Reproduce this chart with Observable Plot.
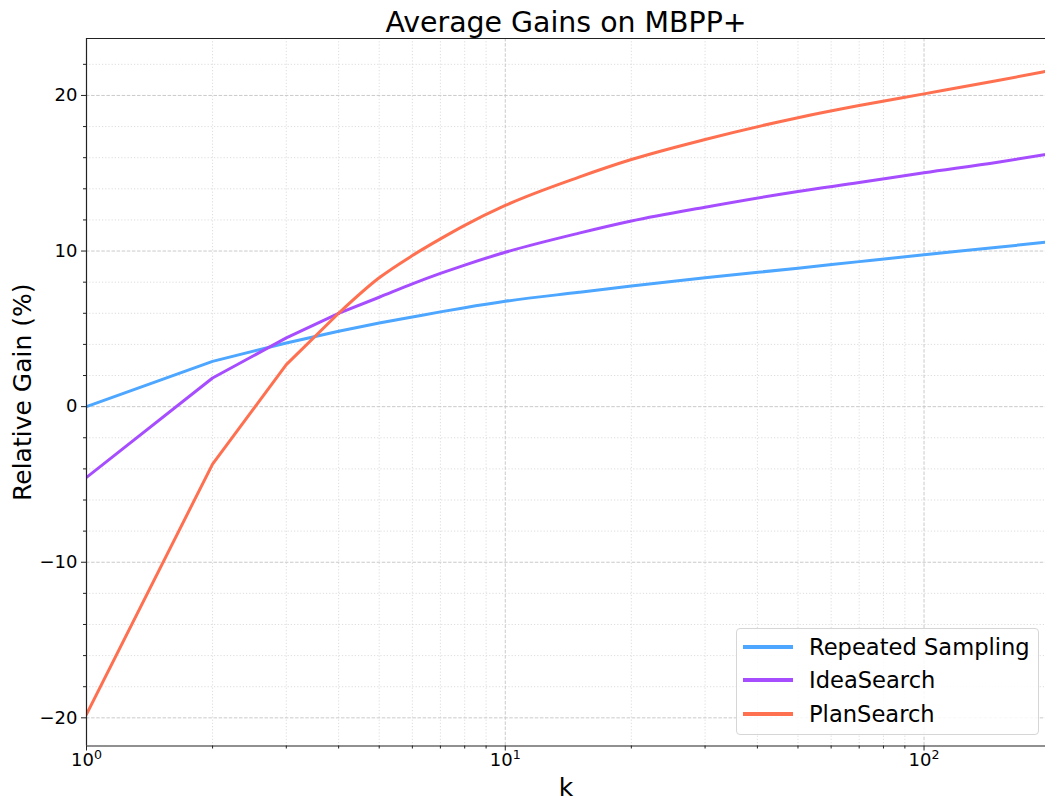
<!DOCTYPE html>
<html>
<head>
<meta charset="utf-8">
<script src="https://cdn.jsdelivr.net/npm/d3@7"></script>
<script src="https://cdn.jsdelivr.net/npm/@observablehq/plot@0.6"></script>
<style>
  html, body { margin: 0; padding: 0; background: #fff; overflow: hidden; }
  #wrap { position: relative; width: 1045px; height: 804px; font-family: "DejaVu Sans", sans-serif; }
  #legend { position: absolute; left: 736px; top: 628px; width: 303px; height: 107px;
    border: 1px solid #d6d6d6; border-radius: 4px; background: rgba(255,255,255,0.85); box-sizing: border-box; }
  .item { position: absolute; left: 0; height: 30px; width: 100%; }
  .sw { position: absolute; left: 6px; top: 13px; width: 50px; height: 4px; }
  .lab { position: absolute; left: 72px; top: 0; font-size: 22.6px; line-height: 30px; color: #000; white-space: nowrap; }
</style>
</head>
<body>
<div id="wrap"></div>
<script>
// ---- data ----
const ks = [1, 2, 3, 4, 5, 6, 7, 8, 10, 15, 20, 30, 50, 70, 100, 150, 195];
const repeatedSampling = [0, 2.91, 4.09, 4.85, 5.37, 5.76, 6.09, 6.36, 6.77, 7.35, 7.75, 8.28, 8.9, 9.32, 9.76, 10.24, 10.57];
const ideaSearch = [-4.55, 1.84, 4.42, 6.0, 7.03, 7.89, 8.56, 9.1, 9.92, 11.15, 11.93, 12.82, 13.83, 14.4, 15.03, 15.71, 16.2];
const planSearch = [-19.77, -3.69, 2.70, 6.0, 8.28, 9.71, 10.78, 11.65, 12.93, 14.75, 15.88, 17.17, 18.57, 19.35, 20.1, 20.96, 21.54];
const seriesNames = ["Repeated Sampling", "IdeaSearch", "PlanSearch"];
const seriesColors = ["#4da6ff", "#a64dff", "#ff7050"];
const yMajorTicks = [-20, -10, 0, 10, 20];
const yMinorTicks = [-20, -18, -16, -14, -12, -10, -8, -6, -4, -2, 0, 2, 4, 6, 8, 10, 12, 14, 16, 18, 20, 22];
const xMajorTicks = [1, 10, 100];
const xMinorTicks = [2, 3, 4, 5, 6, 7, 8, 9, 20, 30, 40, 50, 60, 70, 80, 90];
const title = "Average Gains on MBPP+";
const xLabel = "k";
const yLabel = "Relative Gain (%)";

const allSeries = [repeatedSampling, ideaSearch, planSearch];
const rows = [];
allSeries.forEach((vals, si) => vals.forEach((v, i) => rows.push({k: ks[i], gain: v, series: seriesNames[si]})));

const yDomain = [-21.81, 23.66];
const xDomain = [1, 195];
const font = "DejaVu Sans, sans-serif";
const lineOpts = {x: "k", y: "gain", z: "series", stroke: "series", strokeWidth: 3, clip: true, strokeLinejoin: "round"};

const chart = Plot.plot({
  width: 1045,
  height: 804,
  marginLeft: 86,
  marginRight: 0,
  marginTop: 38,
  marginBottom: 58.5,
  style: {fontFamily: font, background: "#fff", color: "#000"},
  x: {type: "log", domain: xDomain, axis: null},
  y: {domain: yDomain, axis: null},
  color: {domain: seriesNames, range: seriesColors},
  marks: [
    // grid
    Plot.ruleX(xMinorTicks, {stroke: "#d4d4d4", strokeWidth: 0.8, strokeDasharray: "1.2,2"}),
    Plot.ruleY(yMinorTicks.filter(d => !yMajorTicks.includes(d)), {stroke: "#d4d4d4", strokeWidth: 0.8, strokeDasharray: "1.2,2"}),
    Plot.ruleX(xMajorTicks, {stroke: "#c4c4c4", strokeWidth: 0.9, strokeDasharray: "3.5,1.6"}),
    Plot.ruleY(yMajorTicks, {stroke: "#c4c4c4", strokeWidth: 0.9, strokeDasharray: "3.5,1.6"}),
    // lines: straight segments for small k, smooth for the dense part
    Plot.line(rows.filter(d => d.k <= 4), {...lineOpts, curve: "linear"}),
    Plot.line(rows.filter(d => d.k >= 4), {...lineOpts, curve: "monotone-x"}),
    // spines
    Plot.ruleX([xDomain[0]], {stroke: "#222", strokeWidth: 1.2}),
    Plot.ruleY([yDomain[0]], {stroke: "#222", strokeWidth: 1.2}),
    Plot.ruleY([yDomain[1]], {stroke: "#222", strokeWidth: 1.2}),
    // axes
    Plot.axisY(yMajorTicks, {tickSize: 5, tickPadding: 4, fontSize: 18, tickFormat: d => d < 0 ? "\u2212" + Math.abs(d) : String(d), stroke: "#222", fill: "#000", label: null}),
    Plot.axisY(yMinorTicks.filter(d => !yMajorTicks.includes(d)), {tickSize: 3, text: null, stroke: "#222", label: null}),
    Plot.axisX(xMajorTicks, {tickSize: 5, tickPadding: 2, fontSize: 18, tickFormat: d => "10^" + Math.round(Math.log10(d)), stroke: "#222", fill: "#000", label: null}),
    Plot.axisX(xMinorTicks, {tickSize: 3, text: null, stroke: "#222", label: null}),
    // texts
    Plot.text([title], {frameAnchor: "top", lineAnchor: "middle", textAnchor: "middle", dy: -16, fontSize: 28.4, fill: "#000"}),
    Plot.text([xLabel], {frameAnchor: "bottom", lineAnchor: "middle", textAnchor: "middle", dy: 42, fontSize: 25, fill: "#000"}),
    Plot.text([yLabel], {frameAnchor: "left", lineAnchor: "middle", textAnchor: "middle", dx: -64, rotate: -90, fontSize: 25, fill: "#000"})
  ]
});

// superscript exponents on the log axis labels
d3.select(chart).selectAll('g[aria-label="x-axis tick label"] text').each(function() {
  const t = this.textContent;
  if (!t.includes("^")) return;
  const [base, exp] = t.split("^");
  const sel = d3.select(this);
  sel.text(null);
  sel.append("tspan").text(base);
  sel.append("tspan").attr("dy", "-7").attr("font-size", "12.6").text(exp);
});

const wrap = document.getElementById("wrap");
wrap.appendChild(chart);

// legend
const legend = document.createElement("div");
legend.id = "legend";
seriesNames.forEach((name, i) => {
  const item = document.createElement("div");
  item.className = "item";
  item.style.top = (3 + i * 33.3) + "px";
  const sw = document.createElement("div");
  sw.className = "sw";
  sw.style.background = seriesColors[i];
  const lab = document.createElement("div");
  lab.className = "lab";
  lab.textContent = name;
  item.appendChild(sw);
  item.appendChild(lab);
  legend.appendChild(item);
});
wrap.appendChild(legend);
</script>
</body>
</html>
